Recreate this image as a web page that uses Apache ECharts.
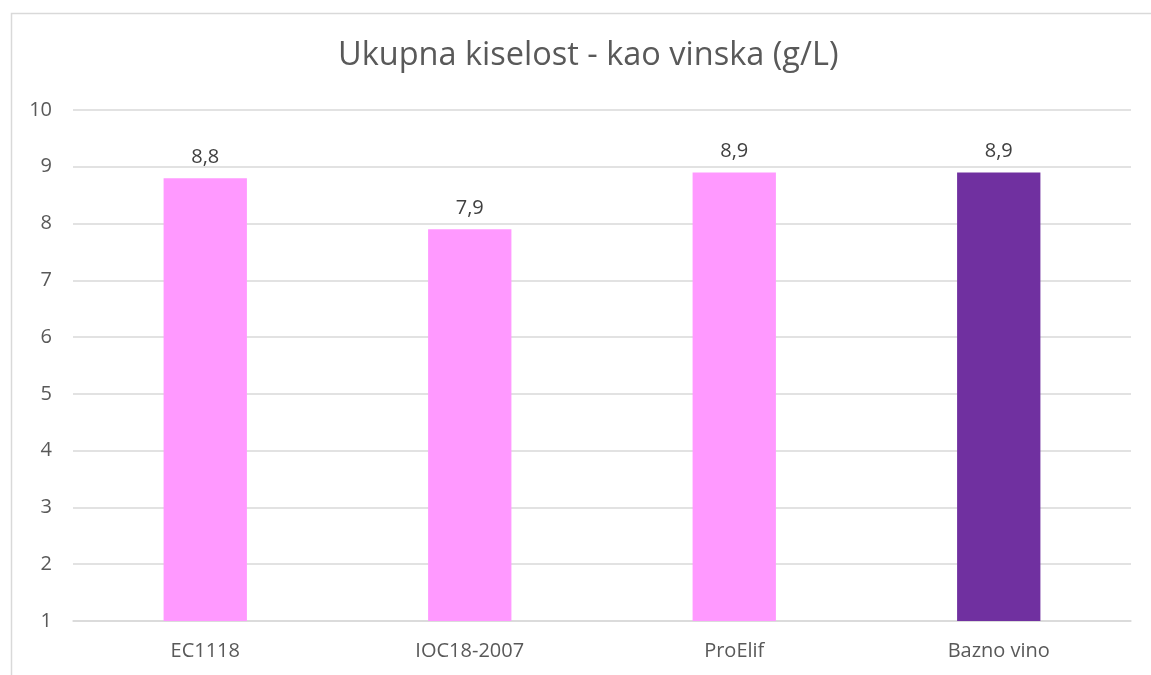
<!DOCTYPE html>
<html><head><meta charset="utf-8">
<script src="https://cdn.jsdelivr.net/npm/echarts@6/dist/echarts.min.js"></script>
<style>html,body{margin:0;padding:0;background:#fff}#c{width:1151px;height:675px}</style>
</head><body><div id="c"></div>
<script>
const categories = ['EC1118', 'IOC18-2007', 'ProElif', 'Bazno vino'];
const values = [8.8, 7.9, 8.9, 8.9];
const barColors = ['#FF99FF', '#FF99FF', '#FF99FF', '#7030A0'];
const yMin = 1, yMax = 10, yStep = 1;

const chart = echarts.init(document.getElementById('c'));
chart.setOption({
  animation: false,
  backgroundColor: '#fff',
  graphic: [{
    type: 'rect', left: 9, top: 11,
    shape: { width: 1200, height: 700 },
    style: { fill: 'none', stroke: '#D9D9D9', lineWidth: 1.5 }, silent: true, z: -1
  }],
  title: {
    text: 'Ukupna kiselost - kao vinska (g/L)',
    left: 333, top: 34,
    textStyle: { fontFamily: 'Open Sans', fontSize: 32.5, fontWeight: 'normal', color: '#595959' }
  },
  grid: { left: 73, right: 20, top: 110, bottom: 54, containLabel: false },
  xAxis: {
    type: 'category', data: categories,
    axisLine: { lineStyle: { color: '#D9D9D9', width: 1.5 } },
    axisTick: { show: false },
    axisLabel: { color: '#595959', fontFamily: 'Open Sans', fontSize: 20, margin: 20 }
  },
  yAxis: {
    type: 'value', min: yMin, max: yMax, interval: yStep,
    axisLine: { show: false }, axisTick: { show: false },
    splitLine: { lineStyle: { color: '#D9D9D9', width: 1.5 } },
    axisLabel: { color: '#595959', fontFamily: 'Open Sans', fontSize: 20, margin: 21 }
  },
  series: [{
    type: 'bar', barWidth: '31.5%',
    data: values.map((v, i) => ({ value: v, itemStyle: { color: barColors[i] } })),
    label: {
      show: true, position: 'top', distance: 11,
      color: '#404040', fontFamily: 'Open Sans', fontSize: 20,
      formatter: p => String(p.value).replace('.', ',')
    }
  }]
});
</script></body></html>
